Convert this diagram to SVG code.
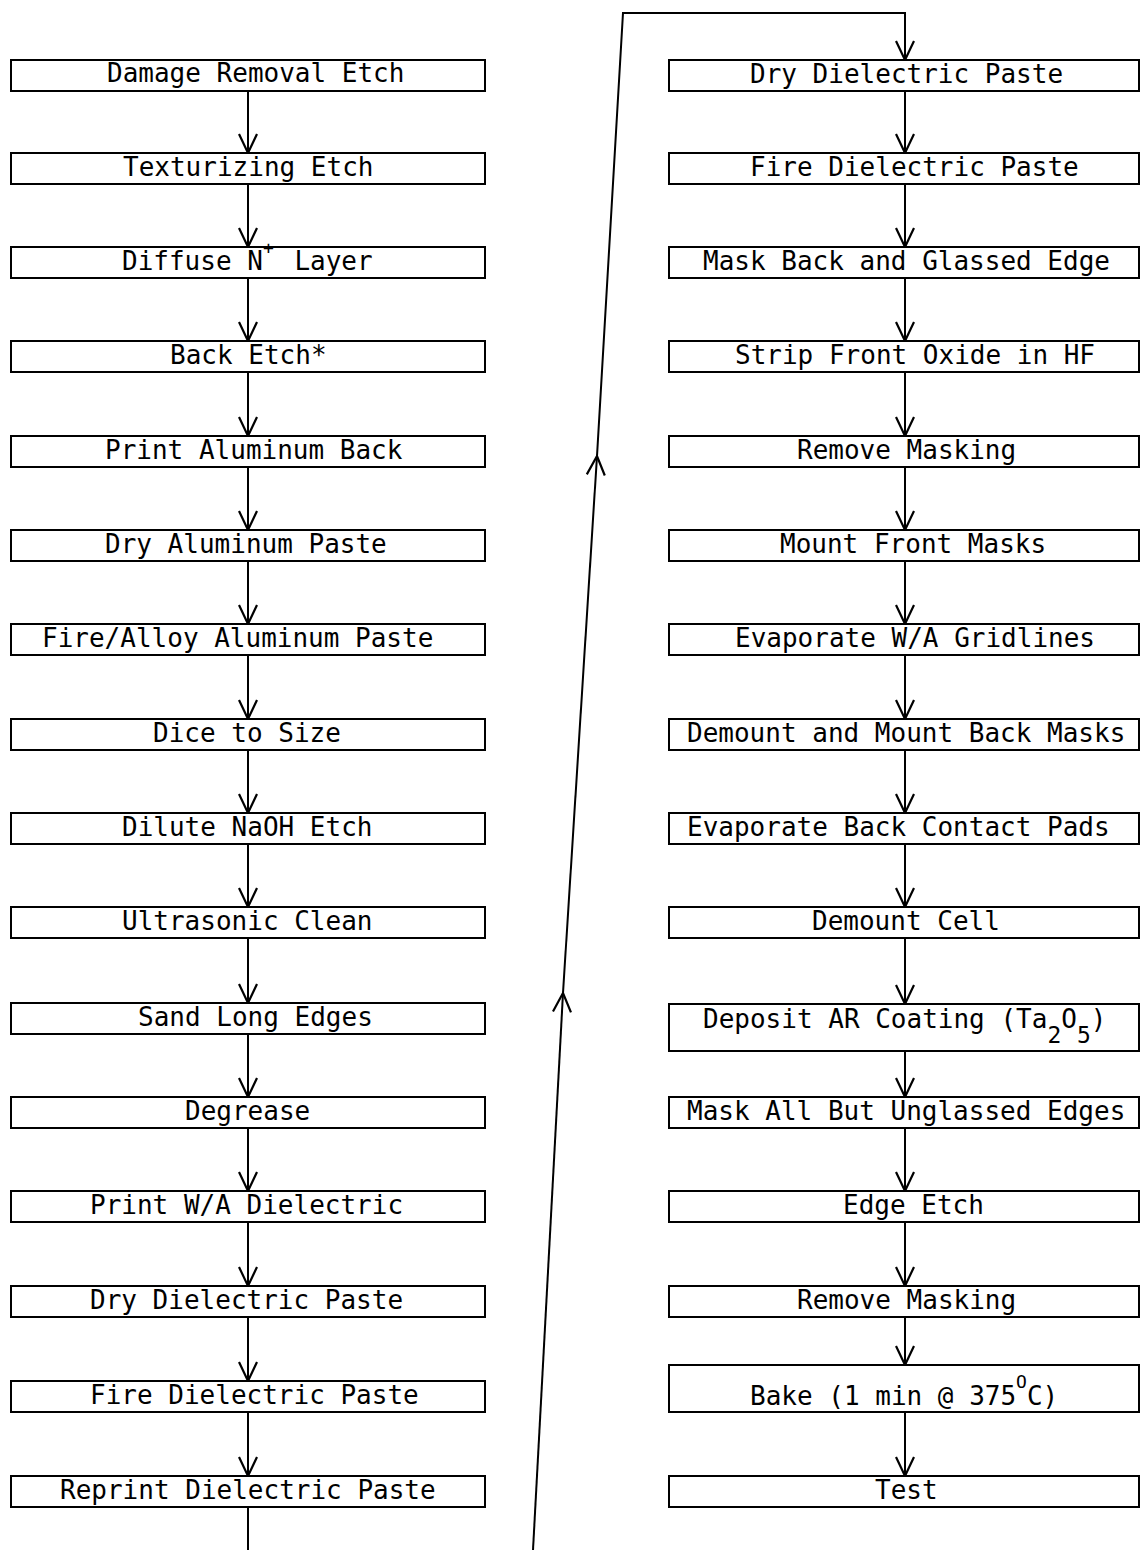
<svg xmlns="http://www.w3.org/2000/svg" width="1140" height="1550" viewBox="0 0 1140 1550">
<style>
.box{fill:#fff;stroke:#000;stroke-width:2}
.t{font-family:"DejaVu Sans Mono","Liberation Mono",monospace;font-size:26px;fill:#000}
.c{fill:none;stroke:#000;stroke-width:2}
</style>
<defs>
<marker id="v" viewBox="-20 -11 22 22" refX="0" refY="0" markerWidth="22" markerHeight="22" markerUnits="userSpaceOnUse" orient="auto" overflow="visible">
<path d="M-19,-9 L0,0 L-19,9" fill="none" stroke="#000" stroke-width="2.2"/>
</marker>
</defs>
<rect width="1140" height="1550" fill="#fff"/>
<g id="connectors" class="c">
<line x1="248" y1="91" x2="248" y2="153" marker-end="url(#v)"/>
<line x1="248" y1="184" x2="248" y2="247" marker-end="url(#v)"/>
<line x1="248" y1="278" x2="248" y2="341" marker-end="url(#v)"/>
<line x1="248" y1="372" x2="248" y2="436" marker-end="url(#v)"/>
<line x1="248" y1="467" x2="248" y2="530" marker-end="url(#v)"/>
<line x1="248" y1="561" x2="248" y2="624" marker-end="url(#v)"/>
<line x1="248" y1="655" x2="248" y2="719" marker-end="url(#v)"/>
<line x1="248" y1="750" x2="248" y2="813" marker-end="url(#v)"/>
<line x1="248" y1="844" x2="248" y2="907" marker-end="url(#v)"/>
<line x1="248" y1="938" x2="248" y2="1003" marker-end="url(#v)"/>
<line x1="248" y1="1034" x2="248" y2="1097" marker-end="url(#v)"/>
<line x1="248" y1="1128" x2="248" y2="1191" marker-end="url(#v)"/>
<line x1="248" y1="1222" x2="248" y2="1286" marker-end="url(#v)"/>
<line x1="248" y1="1317" x2="248" y2="1381" marker-end="url(#v)"/>
<line x1="248" y1="1412" x2="248" y2="1476" marker-end="url(#v)"/>
<line x1="248" y1="1507" x2="248" y2="1550"/>
<line x1="533" y1="1550" x2="563" y2="993" marker-end="url(#v)"/>
<line x1="563" y1="993" x2="597" y2="456" marker-end="url(#v)"/>
<polyline points="597,456 623,13 905,13 905,60" marker-end="url(#v)"/>
<line x1="905" y1="91" x2="905" y2="153" marker-end="url(#v)"/>
<line x1="905" y1="184" x2="905" y2="247" marker-end="url(#v)"/>
<line x1="905" y1="278" x2="905" y2="341" marker-end="url(#v)"/>
<line x1="905" y1="372" x2="905" y2="436" marker-end="url(#v)"/>
<line x1="905" y1="467" x2="905" y2="530" marker-end="url(#v)"/>
<line x1="905" y1="561" x2="905" y2="624" marker-end="url(#v)"/>
<line x1="905" y1="655" x2="905" y2="719" marker-end="url(#v)"/>
<line x1="905" y1="750" x2="905" y2="813" marker-end="url(#v)"/>
<line x1="905" y1="844" x2="905" y2="907" marker-end="url(#v)"/>
<line x1="905" y1="938" x2="905" y2="1004" marker-end="url(#v)"/>
<line x1="905" y1="1051" x2="905" y2="1097" marker-end="url(#v)"/>
<line x1="905" y1="1128" x2="905" y2="1191" marker-end="url(#v)"/>
<line x1="905" y1="1222" x2="905" y2="1286" marker-end="url(#v)"/>
<line x1="905" y1="1317" x2="905" y2="1365" marker-end="url(#v)"/>
<line x1="905" y1="1412" x2="905" y2="1476" marker-end="url(#v)"/>
</g>
<g id="L1"><rect class="box" x="11" y="60" width="474" height="31"/><text class="t" x="107" y="82">Damage Removal Etch</text></g>
<g id="L2"><rect class="box" x="11" y="153" width="474" height="31"/><text class="t" x="123" y="176">Texturizing Etch</text></g>
<g id="L3"><rect class="box" x="11" y="247" width="474" height="31"/><text class="t" x="122" y="270">Diffuse N<tspan font-size="18" dy="-16">+</tspan><tspan dy="16" dx="5"> Layer</tspan></text></g>
<g id="L4"><rect class="box" x="11" y="341" width="474" height="31"/><text class="t" x="170" y="364">Back Etch*</text></g>
<g id="L5"><rect class="box" x="11" y="436" width="474" height="31"/><text class="t" x="105" y="459">Print Aluminum Back</text></g>
<g id="L6"><rect class="box" x="11" y="530" width="474" height="31"/><text class="t" x="105" y="553">Dry Aluminum Paste</text></g>
<g id="L7"><rect class="box" x="11" y="624" width="474" height="31"/><text class="t" x="42" y="647">Fire/Alloy Aluminum Paste</text></g>
<g id="L8"><rect class="box" x="11" y="719" width="474" height="31"/><text class="t" x="153" y="742">Dice to Size</text></g>
<g id="L9"><rect class="box" x="11" y="813" width="474" height="31"/><text class="t" x="122" y="836">Dilute NaOH Etch</text></g>
<g id="L10"><rect class="box" x="11" y="907" width="474" height="31"/><text class="t" x="122" y="930">Ultrasonic Clean</text></g>
<g id="L11"><rect class="box" x="11" y="1003" width="474" height="31"/><text class="t" x="138" y="1026">Sand Long Edges</text></g>
<g id="L12"><rect class="box" x="11" y="1097" width="474" height="31"/><text class="t" x="185" y="1120">Degrease</text></g>
<g id="L13"><rect class="box" x="11" y="1191" width="474" height="31"/><text class="t" x="90" y="1214">Print W/A Dielectric</text></g>
<g id="L14"><rect class="box" x="11" y="1286" width="474" height="31"/><text class="t" x="90" y="1309">Dry Dielectric Paste</text></g>
<g id="L15"><rect class="box" x="11" y="1381" width="474" height="31"/><text class="t" x="90" y="1404">Fire Dielectric Paste</text></g>
<g id="L16"><rect class="box" x="11" y="1476" width="474" height="31"/><text class="t" x="60" y="1499">Reprint Dielectric Paste</text></g>
<g id="R1"><rect class="box" x="669" y="60" width="470" height="31"/><text class="t" x="750" y="83">Dry Dielectric Paste</text></g>
<g id="R2"><rect class="box" x="669" y="153" width="470" height="31"/><text class="t" x="750" y="176">Fire Dielectric Paste</text></g>
<g id="R3"><rect class="box" x="669" y="247" width="470" height="31"/><text class="t" x="703" y="270">Mask Back and Glassed Edge</text></g>
<g id="R4"><rect class="box" x="669" y="341" width="470" height="31"/><text class="t" x="735" y="364">Strip Front Oxide in HF</text></g>
<g id="R5"><rect class="box" x="669" y="436" width="470" height="31"/><text class="t" x="797" y="459">Remove Masking</text></g>
<g id="R6"><rect class="box" x="669" y="530" width="470" height="31"/><text class="t" x="780" y="553">Mount Front Masks</text></g>
<g id="R7"><rect class="box" x="669" y="624" width="470" height="31"/><text class="t" x="735" y="647">Evaporate W/A Gridlines</text></g>
<g id="R8"><rect class="box" x="669" y="719" width="470" height="31"/><text class="t" x="687" y="742">Demount and Mount Back Masks</text></g>
<g id="R9"><rect class="box" x="669" y="813" width="470" height="31"/><text class="t" x="687" y="836">Evaporate Back Contact Pads</text></g>
<g id="R10"><rect class="box" x="669" y="907" width="470" height="31"/><text class="t" x="812" y="930">Demount Cell</text></g>
<g id="R11"><rect class="box" x="669" y="1004" width="470" height="47"/><text class="t" x="703" y="1028">Deposit AR Coating (Ta<tspan font-size="23" dy="15">2</tspan><tspan dy="-15">O</tspan><tspan font-size="23" dy="15">5</tspan><tspan dy="-15">)</tspan></text></g>
<g id="R12"><rect class="box" x="669" y="1097" width="470" height="31"/><text class="t" x="687" y="1120">Mask All But Unglassed Edges</text></g>
<g id="R13"><rect class="box" x="669" y="1191" width="470" height="31"/><text class="t" x="843" y="1214">Edge Etch</text></g>
<g id="R14"><rect class="box" x="669" y="1286" width="470" height="31"/><text class="t" x="797" y="1309">Remove Masking</text></g>
<g id="R15"><rect class="box" x="669" y="1365" width="470" height="47"/><text class="t" x="750" y="1405">Bake (1 min @ 375<tspan font-size="18" dy="-17">O</tspan><tspan dy="17">C)</tspan></text></g>
<g id="R16"><rect class="box" x="669" y="1476" width="470" height="31"/><text class="t" x="875" y="1499">Test</text></g>
</svg>
